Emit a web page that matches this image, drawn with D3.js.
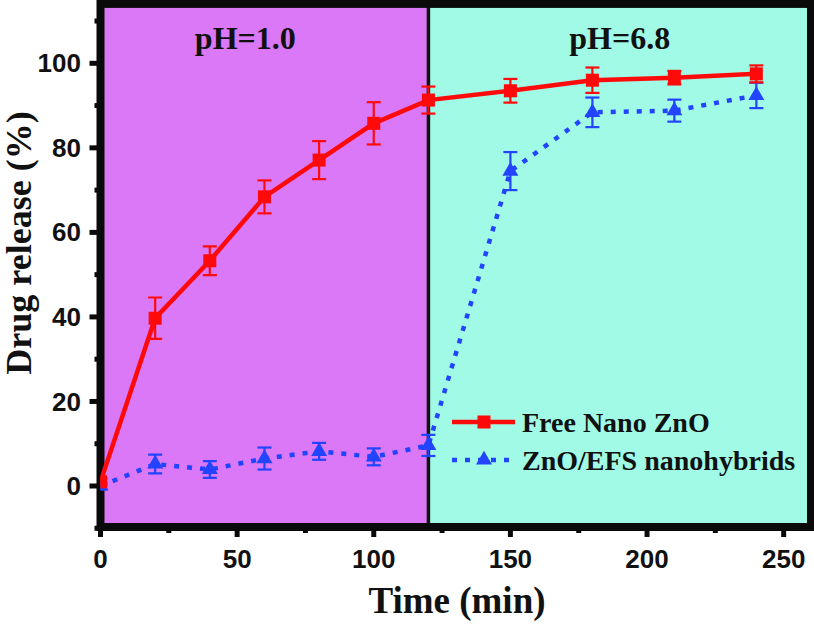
<!DOCTYPE html>
<html><head><meta charset="utf-8">
<script src="https://cdn.jsdelivr.net/npm/d3@7"></script>
<style>body{margin:0;background:#fff}svg{display:block}</style>
</head><body>
<svg id="c" width="814" height="624"></svg>
<script>
const times = [0, 20, 40, 60, 80, 100, 120, 150, 180, 210, 240];
const freeZnO = [1, 39.7, 53.3, 68.4, 77.1, 85.8, 91.3, 93.5, 96.0, 96.6, 97.5];
const freeZnOErr = [0.8, 4.9, 3.4, 3.9, 4.5, 5.0, 3.2, 2.8, 3.0, 1.6, 2.0];
const hybrid = [0, 5.2, 3.9, 6.5, 8.2, 6.9, 9.6, 74.5, 88.4, 88.8, 92.4];
const hybridErr = [0.8, 2.2, 2.0, 2.6, 2.0, 2.0, 2.5, 4.5, 3.5, 2.6, 3.0];
const xTicks = [0, 50, 100, 150, 200, 250];
const xMinor = [25, 75, 125, 175, 225];
const yTicks = [0, 20, 40, 60, 80, 100];
const yMinor = [-10, 10, 30, 50, 70, 90, 110];
const phRegions = [{from: 0, to: 120, label: "pH=1.0", color: "#DA78F7", labelAt: 53}, {from: 120, to: 260, label: "pH=6.8", color: "#A0FAE5", labelAt: 190}];
const seriesNames = ["Free Nano ZnO", "ZnO/EFS nanohybrids"];

const svg = d3.select("#c");
const x = d3.scaleLinear().domain([0, 260]).range([100.5, 811]);
const y = d3.scaleLinear().domain([0, 100]).range([486, 63.3]);
const yBot = y(-9.7), yTop = y(114.05);
const serif = "'Liberation Serif', 'Times New Roman', serif";

// backgrounds
phRegions.forEach(r => {
  svg.append("rect").attr("x", x(r.from)).attr("y", yTop)
    .attr("width", x(r.to) - x(r.from)).attr("height", yBot - yTop).attr("fill", r.color);
  svg.append("text").attr("x", x(r.labelAt)).attr("y", 49).attr("text-anchor", "middle")
    .attr("font-family", serif).attr("font-weight", "bold")
    .attr("font-size", 32).attr("fill", "#111").text(r.label);
});
// divider
svg.append("line").attr("x1", x(120)).attr("x2", x(120)).attr("y1", yTop).attr("y2", yBot)
  .attr("stroke", "#111").attr("stroke-width", 3.5);

// frame
svg.append("rect").attr("x", x(0)).attr("y", yTop).attr("width", x(260) - x(0)).attr("height", yBot - yTop)
  .attr("fill", "none").attr("stroke", "#0a0a0a").attr("stroke-width", 8);

// ticks
const tickG = svg.append("g").attr("stroke", "#0a0a0a").attr("stroke-width", 5);
xTicks.forEach(t => tickG.append("line").attr("x1", x(t)).attr("x2", x(t)).attr("y1", yBot).attr("y2", yBot + 10));
xMinor.forEach(t => tickG.append("line").attr("x1", x(t)).attr("x2", x(t)).attr("y1", yBot).attr("y2", yBot + 6));
yTicks.forEach(t => tickG.append("line").attr("y1", y(t)).attr("y2", y(t)).attr("x1", x(0)).attr("x2", x(0) - 11));
yMinor.forEach(t => tickG.append("line").attr("y1", y(t)).attr("y2", y(t)).attr("x1", x(0)).attr("x2", x(0) - 6));

const tickFont = "'Liberation Sans', Arial, sans-serif";
xTicks.forEach(t => svg.append("text").attr("x", x(t)).attr("y", 568).attr("text-anchor", "middle")
  .attr("font-family", tickFont).attr("font-weight", "bold").attr("font-size", 26).attr("fill", "#111").text(t));
yTicks.forEach(t => svg.append("text").attr("x", 81).attr("y", y(t)).attr("dy", "0.35em").attr("text-anchor", "end")
  .attr("font-family", tickFont).attr("font-weight", "bold").attr("font-size", 26).attr("fill", "#111").text(t));

// axis titles
svg.append("text").attr("x", 457).attr("y", 613).attr("text-anchor", "middle")
  .attr("font-family", serif).attr("font-weight", "bold").attr("font-size", 37).attr("fill", "#111").text("Time (min)");
svg.append("text").attr("transform", `translate(31,${243}) rotate(-90)`).attr("text-anchor", "middle")
  .attr("font-family", serif).attr("font-weight", "bold").attr("font-size", 36).attr("fill", "#111").text("Drug release (%)");

// data
svg.append("clipPath").attr("id", "clip").append("rect")
  .attr("x", x(0)).attr("y", 0).attr("width", 814).attr("height", yBot);
const dg = svg.append("g").attr("clip-path", "url(#clip)");
const red = "#FF0A0A", blue = "#2244FF";
const line = d3.line().x(d => x(d[0])).y(d => y(d[1]));

function drawSeries(vals, errs, color, dash, symbol, size) {
  const pts = times.map((t, i) => [t, vals[i], errs[i]]);
  dg.append("path").attr("d", line(pts)).attr("fill", "none").attr("stroke", color)
    .attr("stroke-width", 4.5).attr("stroke-dasharray", dash);
  pts.forEach(p => {
    const g = dg.append("g").attr("stroke", color).attr("stroke-width", 2.2);
    g.append("line").attr("x1", x(p[0])).attr("x2", x(p[0])).attr("y1", y(p[1] - p[2])).attr("y2", y(p[1] + p[2]));
    [p[1] - p[2], p[1] + p[2]].forEach(v => g.append("line").attr("x1", x(p[0]) - 7).attr("x2", x(p[0]) + 7)
      .attr("y1", y(v)).attr("y2", y(v)));
    dg.append("path").attr("d", d3.symbol().type(symbol).size(size)())
      .attr("transform", `translate(${x(p[0])},${y(p[1])})`).attr("fill", color);
  });
}
drawSeries(hybrid, hybridErr, blue, "5,8", d3.symbolTriangle, 110);
drawSeries(freeZnO, freeZnOErr, red, null, d3.symbolSquare, 170);

// legend
const legend = [{name: seriesNames[0], color: red, dash: null, sym: d3.symbolSquare, size: 170, y: 422},
                {name: seriesNames[1], color: blue, dash: "5,8", sym: d3.symbolTriangle, size: 110, y: 460}];
legend.forEach(l => {
  svg.append("line").attr("x1", 452).attr("x2", 515).attr("y1", l.y).attr("y2", l.y)
    .attr("stroke", l.color).attr("stroke-width", 4.5).attr("stroke-dasharray", l.dash);
  svg.append("path").attr("d", d3.symbol().type(l.sym).size(l.size)()).attr("transform", `translate(484,${l.y})`).attr("fill", l.color);
  svg.append("text").attr("x", 522).attr("y", l.y + 10).attr("font-family", serif).attr("font-weight", "bold")
    .attr("font-size", 28).attr("fill", "#111").text(l.name);
});
</script>
</body></html>
